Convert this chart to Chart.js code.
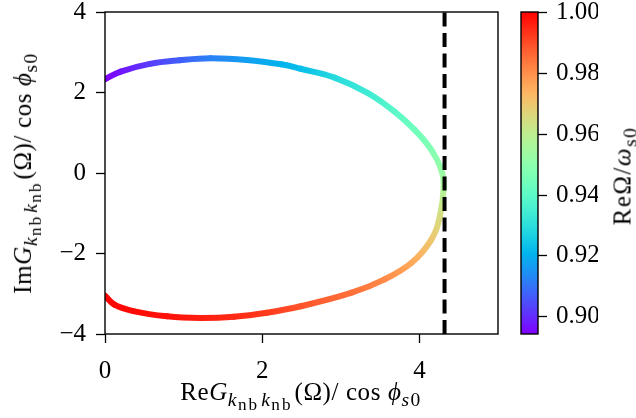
<!DOCTYPE html>
<html>
<head>
<meta charset="utf-8">
<script src="https://cdn.jsdelivr.net/npm/chart.js@4.4.1/dist/chart.umd.min.js"></script>
<style>
  html, body { margin: 0; padding: 0; background: #fff; }
  #wrap { position: relative; width: 636px; height: 418px; overflow: hidden; }
  #wrap canvas { position: absolute; left: 0; top: 0; }
  .lbl {
    position: absolute; white-space: nowrap; color: #000; letter-spacing: 0.6px;
    font-family: "Liberation Serif", "DejaVu Serif", serif; font-size: 25px; line-height: 25px;
  }
  .lbl sub { font-size: 0.78em; vertical-align: -0.3em; line-height: 0; letter-spacing: 1.5px; }
  .lbl sub sub { font-size: 0.88em; vertical-align: -0.25em; letter-spacing: 2px; margin-right: 2px; }
  #xTitle { left: 301px; top: 379px; transform: translateX(-50%); }
  #yTitle { left: 23px; top: 173px; transform: translate(-50%, -50%) rotate(-90deg); }
  #cbTitle { left: 622px; top: 176px; transform: translate(-50%, -50%) rotate(-90deg); letter-spacing: 1.5px; }
</style>
</head>
<body>
<div id="wrap">
  <canvas id="main" width="636" height="418"></canvas>
  <canvas id="cbar" width="636" height="418"></canvas>
  <div class="lbl" id="xTitle">Re<i>G</i><sub><i>k</i><sub>nb</sub><i>k</i><sub>nb</sub></sub>(Ω)/ cos <i>ϕ</i><sub><i>s</i>0</sub></div>
  <div class="lbl" id="yTitle">Im<i>G</i><sub><i>k</i><sub>nb</sub><i>k</i><sub>nb</sub></sub>(Ω)/ cos <i>ϕ</i><sub>s0</sub></div>
  <div class="lbl" id="cbTitle">ReΩ/<i>ω</i><sub>s0</sub></div>
</div>
<script>
// ── Data ────────────────────────────────────────────────────────────────────
const reG = [0.00, 0.20, 0.57, 0.95, 1.34, 1.80, 2.24, 2.49, 2.92, 3.34, 3.68, 3.94, 4.15, 4.28,
             4.31, 4.26, 4.15, 3.90, 3.55, 3.13, 2.49, 2.06, 1.64, 1.21, 0.79, 0.36, 0.12, 0.00]
const imG = [2.33, 2.52, 2.71, 2.80, 2.85, 2.81, 2.70, 2.59, 2.37, 1.99, 1.53, 1.07, 0.58, 0.08,
             -0.33, -1.08, -1.66, -2.23, -2.65, -2.98, -3.31, -3.47, -3.57, -3.60, -3.56, -3.43, -3.27, -3.05]
const reOmega = [0.894, 0.897, 0.9025, 0.907, 0.912, 0.917, 0.9205, 0.9226, 0.929, 0.934, 0.9395, 0.944, 0.948, 0.952,
                 0.9565, 0.965, 0.970, 0.9756, 0.981, 0.985, 0.989, 0.9926, 0.9947, 0.9963, 0.9979, 0.999, 0.9995, 1.000]
const dashX = 4.32
const xTicks = [0, 2, 4]
const yTicks = [-4, -2, 0, 2, 4]
const cbTicks = [0.90, 0.92, 0.94, 0.96, 0.98, 1.00]
const cbMin = 0.8943
const cbMax = 1.0003

// ── Helpers ─────────────────────────────────────────────────────────────────
const FONT = { family: "'Liberation Serif', 'DejaVu Serif', serif", size: 25 }

function rainbow(v) {
  const t = Math.min(1, Math.max(0, (v - cbMin) / (cbMax - cbMin)))
  const r = Math.min(1, Math.abs(2 * t - 0.5))
  const g = Math.sin(Math.PI * t)
  const b = Math.cos(Math.PI * t / 2)
  return `rgb(${Math.round(r * 255)},${Math.round(g * 255)},${Math.round(b * 255)})`
}

const minus = v => String(v).replace("-", "\u2212")

function fixTicks(list) {
  return scale => { scale.ticks = list.map(v => ({ value: v })) }
}

const frame = {
  id: "frame",
  afterDraw(chart) {
    const { ctx, chartArea: a } = chart
    ctx.save()
    ctx.strokeStyle = "#000"
    ctx.lineWidth = 1.4
    ctx.strokeRect(a.left, a.top, a.right - a.left, a.bottom - a.top)
    ctx.restore()
  }
}

// ── Main chart ──────────────────────────────────────────────────────────────
new Chart(document.getElementById("main"), {
  type: "scatter",
  data: {
    datasets: [
      {
        data: [{ x: dashX, y: -4 }, { x: dashX, y: 4 }],
        showLine: true, borderColor: "#000", borderWidth: 4, borderDash: [14, 6.5],
        pointRadius: 0, order: 0
      },
      {
        data: reG.map((x, i) => ({ x, y: imG[i] })),
        showLine: true, borderWidth: 6, borderCapStyle: "round", tension: 0.4,
        pointRadius: 0, order: 1,
        segment: {
          // distinct offset per segment so each one gets its own gradient
          borderDashOffset: c => c.p0DataIndex,
          borderColor: c => {
            const g = c.chart.ctx.createLinearGradient(c.p0.x, c.p0.y, c.p1.x, c.p1.y)
            g.addColorStop(0, rainbow(reOmega[c.p0DataIndex]))
            g.addColorStop(1, rainbow(reOmega[c.p1DataIndex]))
            return g
          }
        }
      }
    ]
  },
  options: {
    responsive: false, animation: false, devicePixelRatio: 1,
    layout: { padding: { left: 0, right: 138, top: 12, bottom: 0 } },
    plugins: { legend: { display: false }, tooltip: { enabled: false } },
    events: [],
    scales: {
      x: {
        type: "linear", min: 0, max: 5,
        afterBuildTicks: fixTicks(xTicks),
        afterFit: s => { s.height = 84; s.paddingLeft = 0; s.paddingRight = 0 },
        border: { display: false },
        grid: { drawOnChartArea: false, drawTicks: true, tickLength: 9, tickWidth: 1.3, color: "#000" },
        ticks: { color: "#000", font: FONT, padding: 13, maxRotation: 0, callback: v => minus(v) }
      },
      y: {
        type: "linear", min: -4, max: 4,
        afterBuildTicks: fixTicks(yTicks),
        afterFit: s => { s.width = 105; s.paddingTop = 0; s.paddingBottom = 0 },
        border: { display: false },
        grid: { drawOnChartArea: false, drawTicks: true, tickLength: 9, tickWidth: 1.3, color: "#000" },
        ticks: { color: "#000", font: FONT, padding: 10, callback: v => minus(v) }
      }
    }
  },
  plugins: [frame]
})

// ── Colorbar ────────────────────────────────────────────────────────────────
const gradientFill = {
  id: "gradientFill",
  beforeDatasetsDraw(chart) {
    const { ctx, chartArea: a, scales } = chart
    const y0 = scales.y.getPixelForValue(cbMin)
    const y1 = scales.y.getPixelForValue(cbMax)
    const g = ctx.createLinearGradient(0, y0, 0, y1)
    for (let k = 0; k <= 40; k++) g.addColorStop(k / 40, rainbow(cbMin + (cbMax - cbMin) * k / 40))
    ctx.save()
    ctx.fillStyle = g
    ctx.fillRect(a.left, a.top, a.right - a.left, a.bottom - a.top)
    ctx.restore()
  }
}

new Chart(document.getElementById("cbar"), {
  type: "scatter",
  data: { datasets: [] },
  options: {
    responsive: false, animation: false, devicePixelRatio: 1,
    layout: { padding: { left: 521, right: 38, top: 12, bottom: 84 } },
    plugins: { legend: { display: false }, tooltip: { enabled: false } },
    events: [],
    scales: {
      x: { display: false, min: 0, max: 1 },
      y: {
        type: "linear", position: "right", min: cbMin, max: cbMax,
        afterBuildTicks: fixTicks(cbTicks),
        afterFit: s => { s.width = 60; s.paddingTop = 0; s.paddingBottom = 0 },
        border: { display: false },
        grid: { drawOnChartArea: false, drawTicks: true, tickLength: 9, tickWidth: 1.3, color: "#000" },
        ticks: { color: "#000", font: FONT, padding: 9, callback: v => v.toFixed(2) }
      }
    }
  },
  plugins: [gradientFill, frame]
})
</script>
</body>
</html>
